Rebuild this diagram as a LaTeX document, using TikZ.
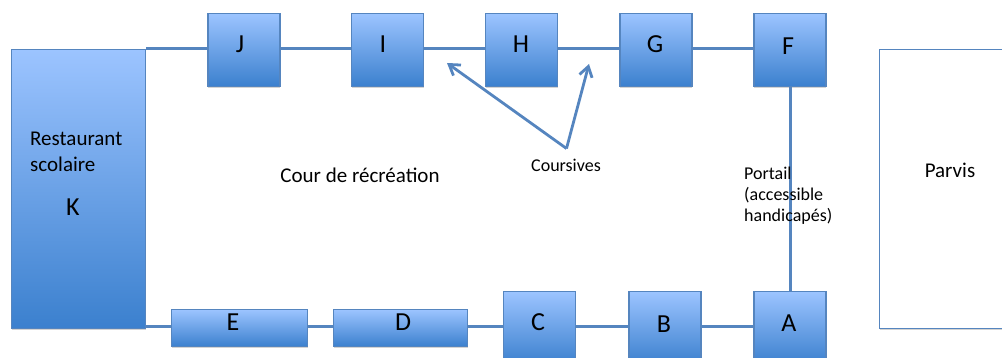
\documentclass[tikz,border=0pt]{standalone}
\usepackage{fontspec}
\setmainfont{Carlito}
\usetikzlibrary{arrows.meta,shadows}
\definecolor{edgeblue}{HTML}{5585BF}
\definecolor{topblue}{HTML}{9CC4FF}
\definecolor{lowblue}{HTML}{3B80CE}
\tikzset{
  block/.style={draw=edgeblue,line width=1.2pt,inner sep=0pt,top color=topblue,bottom color=lowblue,
    drop shadow={shadow xshift=0pt,shadow yshift=-1.5pt,opacity=0.35}},
  link/.style={draw=edgeblue,line width=3pt},
  walk/.style={link,transform canvas={yshift=1.5pt}},
  pointer/.style={draw=edgeblue,line width=2.8pt,-{Straight Barb[length=10pt,width=13pt,line width=2.8pt]}},
  big/.style={font=\fontsize{26}{30}\selectfont,inner sep=0pt},
  mid/.style={font=\fontsize{21}{26}\selectfont,inner sep=0pt},
  small/.style={font=\fontsize{18}{21}\selectfont,inner sep=0pt}
}
\begin{document}
\begin{tikzpicture}[x=1pt,y=-1pt]
\useasboundingbox (0,0) rectangle (1002,358);
\clip (0,0) rectangle (1002,358);

% Square rooms, top and bottom row
\foreach \n/\x/\y in {J/244/50,I/387.5/50,H/521.5/50,G/656/50,F/790/50,C/539.5/328,B/665/328,A/790/328}
	\node [block,minimum width=72pt,minimum height=73pt] (\n) at (\x,\y) {};

% Long rooms
\node [block,minimum width=136pt,minimum height=37pt] (E) at (239.5,328) {};
\node [block,minimum width=134pt,minimum height=37pt] (D) at (400.5,328) {};

% Restaurant and forecourt
\node [block,minimum width=134pt,minimum height=279pt] (K) at (78.5,189) {};
\node [draw=edgeblue,line width=1.2pt,fill=white,inner sep=0pt,minimum width=160pt,minimum height=279pt,
	drop shadow={shadow xshift=0pt,shadow yshift=-1.5pt,opacity=0.35}] (parvis) at (959.5,189) {};

% Walkways between the rooms
\draw [walk] (K.north east |- J.west)--(J.west);
\draw [walk] (J.east)--(I.west);
\draw [walk] (I.east)--(H.west);
\draw [walk] (H.east)--(G.west);
\draw [walk] (G.east)--(F.west);
\draw [walk] (K.south east |- E.west)--(E.west);
\draw [walk] (E.east)--(D.west);
\draw [walk] (D.east)--(C.west);
\draw [walk] (C.east)--(B.west);
\draw [walk] (B.east)--(A.west);
\draw [link] (F.south)--(A.north);

% Room letters
\foreach \n/\x/\y in {J/240/44,I/383/44,H/521/44,G/655/44,F/788/46,E/233/322,D/403/322,C/538/322,B/664/324,A/789/323,K/73/207}
	\node [big] (label\n) at (\x,\y) {\n};

% Other labels
\node [mid,anchor=west,align=left] (restaurant) at (30,152) {Restaurant\\scolaire};
\node [mid] (cour) at (360,175) {Cour de récréation};
\node [small] (coursives) at (566,165.5) {Coursives};
\node [small,anchor=north west,align=left] (portail) at (744,167) {Portail\\(accessible\\handicapés)};
\node [mid] (parvistext) at (950,170) {Parvis};

% Arrows to the walkways
\coordinate (fork) at (566.5,148.5);
\coordinate (tipI) at (447,63);
\coordinate (tipH) at (589,64);
\draw [pointer] (fork)--(tipI);
\draw [pointer] (fork)--(tipH);
\end{tikzpicture}
\end{document}
